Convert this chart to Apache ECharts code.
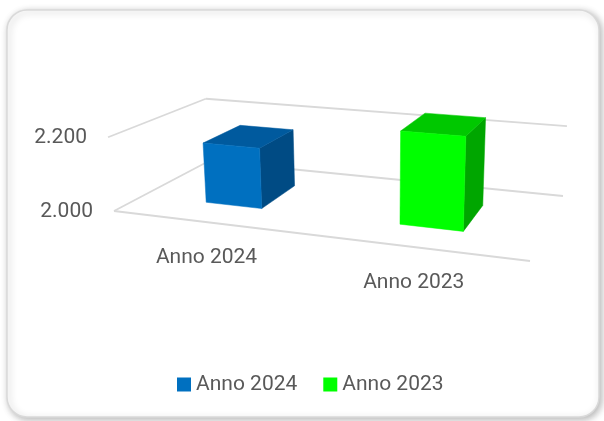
<!DOCTYPE html>
<html>
<head>
<meta charset="utf-8">
<script src="https://cdn.jsdelivr.net/npm/echarts@6/dist/echarts.min.js"></script>
<style>
  html, body { margin: 0; padding: 0; background: #ffffff; }
  #chart { width: 604px; height: 421px; }
</style>
</head>
<body>
<div id="chart"></div>
<script>
// ---- data ----
const categories = ['Anno 2024', 'Anno 2023'];
const values = [2165, 2243];
const yTicks = [2000, 2200];

// ---- styles ----
const FONT = 'Roboto, "Liberation Sans", sans-serif';
const TEXT_COLOR = '#595959';
const GRID_COLOR = '#D9D9D9';
const FACE_COLORS = [
  { front: '#0070C0', top: '#005A9E', side: '#004B84' },
  { front: '#00FF00', top: '#00C800', side: '#00A600' }
];

// ---- 3D view layout ----
// floor corners (front-left, front-right, back-right, back-left) in screen pixels
const FLOOR_QUAD = [[114, 211], [530, 261], [563, 196], [209, 161]];
const FRONT_HEIGHT = 74;          // projected height of the full value span at the front-left corner
const VANISH = [378, 3472];       // vanishing point of vertical edges
const BAR_FRACTION = 0.3;         // bar width as part of the category band
const DEPTH_FRONT = 0.28, DEPTH_BACK = 0.70;

function squareToQuad(q) {
  const [p0, p1, p2, p3] = q;
  const dx1 = p1[0] - p2[0], dx2 = p3[0] - p2[0], dx3 = p0[0] - p1[0] + p2[0] - p3[0];
  const dy1 = p1[1] - p2[1], dy2 = p3[1] - p2[1], dy3 = p0[1] - p1[1] + p2[1] - p3[1];
  const den = dx1 * dy2 - dx2 * dy1;
  const g = (dx3 * dy2 - dx2 * dy3) / den;
  const h = (dx1 * dy3 - dx3 * dy1) / den;
  return {
    a: p1[0] - p0[0] + g * p1[0], b: p3[0] - p0[0] + h * p3[0], c: p0[0],
    d: p1[1] - p0[1] + g * p1[1], e: p3[1] - p0[1] + h * p3[1], f: p0[1],
    g: g, h: h
  };
}
const HM = squareToQuad(FLOOR_QUAD);

// u: along categories (0..1), w: depth (0 front .. 1 back), t: value fraction of the axis span
function project(u, w, t) {
  const den = HM.g * u + HM.h * w + 1;
  const fx = (HM.a * u + HM.b * w + HM.c) / den;
  const fy = (HM.d * u + HM.e * w + HM.f) / den;
  const vx = fx - VANISH[0], vy = fy - VANISH[1];
  const n = Math.sqrt(vx * vx + vy * vy);
  const len = FRONT_HEIGHT * t / den;
  return [fx + vx / n * len, fy + vy / n * len];
}

function fmt(v) {
  return String(v).replace(/\B(?=(\d{3})+(?!\d))/g, '.');
}

// normalised position of a value pair taken from the cartesian scales
function norm(params, api, x, y) {
  const cs = params.coordSys;
  const p = api.coord([x, y]);
  return {
    u: (p[0] - cs.x) / cs.width,
    t: (cs.y + cs.height - p[1]) / cs.height
  };
}

function textEl(text, x, y, align) {
  return {
    type: 'text',
    style: {
      text: text, x: x, y: y,
      fill: TEXT_COLOR, fontSize: 21, fontFamily: FONT,
      align: align, verticalAlign: 'middle',
      textAlign: align, textVerticalAlign: 'middle'
    }
  };
}

function line(p, q) {
  return {
    type: 'line',
    shape: { x1: p[0], y1: p[1], x2: q[0], y2: q[1] },
    style: { stroke: GRID_COLOR, lineWidth: 1.8 }
  };
}

// walls, floor edge and value labels
function renderGrid(params, api) {
  const v = api.value(1);
  const t = norm(params, api, 0, v).t;
  const children = [];
  const fl = project(0, 0, t), bl = project(0, 1, t), br = project(1, 1, t);
  children.push(line(fl, bl), line(bl, br));
  if (params.dataIndex === 0) {
    children.push(line(project(0, 0, t), project(1, 0, t)));
  }
  children.push(textEl(fmt(v), fl[0] - 21, fl[1] + 1, 'right'));
  return { type: 'group', children: children };
}

// category names under the front floor edge
function renderCategory(params, api) {
  const n = norm(params, api, api.value(0), yTicks[0]);
  const p = project(n.u, 0, 0);
  return textEl(categories[api.value(0)], p[0] - 1, p[1] + 36, 'center');
}

function makeBarRenderer(colors) {
  return function (params, api) {
    const cs = params.coordSys;
    const n = norm(params, api, api.value(0), api.value(1));
    const half = api.size([1, 0])[0] * BAR_FRACTION / 2 / cs.width;
    const u0 = n.u - half, u1 = n.u + half;
    const w0 = DEPTH_FRONT, w1 = DEPTH_BACK, t = n.t;
    const poly = (pts, fill) => ({
      type: 'polygon',
      shape: { points: pts },
      style: { fill: fill, stroke: fill, lineWidth: 0.5 }
    });
    return {
      type: 'group',
      children: [
        poly([project(u1, w0, 0), project(u1, w1, 0), project(u1, w1, t), project(u1, w0, t)], colors.side),
        poly([project(u0, w0, t), project(u1, w0, t), project(u1, w1, t), project(u0, w1, t)], colors.top),
        poly([project(u0, w0, 0), project(u1, w0, 0), project(u1, w0, t), project(u0, w0, t)], colors.front)
      ]
    };
  };
}

const barSeries = categories.map((name, i) => ({
  type: 'custom',
  name: name,
  clip: false,
  z: 5,
  itemStyle: { color: FACE_COLORS[i].front },
  renderItem: makeBarRenderer(FACE_COLORS[i]),
  data: [[i, values[i]]]
}));

const chart = echarts.init(document.getElementById('chart'));
chart.setOption({
  animation: false,
  backgroundColor: '#ffffff',
  graphic: {
    elements: [{
      type: 'rect',
      z: -10,
      shape: { x: 7, y: 10, width: 592, height: 407, r: 20 },
      style: {
        fill: '#ffffff', stroke: '#D9D9D9', lineWidth: 1.5,
        shadowBlur: 7, shadowOffsetX: 2, shadowOffsetY: 2,
        shadowColor: 'rgba(0,0,0,0.28)'
      }
    }]
  },
  grid: { left: 0, right: 0, top: 0, bottom: 0 },
  xAxis: { type: 'category', data: categories, show: false },
  yAxis: { type: 'value', min: yTicks[0], max: yTicks[yTicks.length - 1], show: false },
  legend: {
    data: categories,
    left: 177,
    top: 374,
    padding: 0,
    icon: 'rect',
    itemWidth: 14,
    itemHeight: 14,
    itemGap: 26,
    textStyle: { color: TEXT_COLOR, fontSize: 21, fontFamily: FONT }
  },
  series: [
    {
      type: 'custom',
      name: 'grid',
      clip: false,
      z: 1,
      silent: true,
      renderItem: renderGrid,
      data: yTicks.map(v => [0, v])
    },
    {
      type: 'custom',
      name: 'categories',
      clip: false,
      z: 1,
      silent: true,
      renderItem: renderCategory,
      data: categories.map((c, i) => [i, yTicks[0]])
    }
  ].concat(barSeries)
});
</script>
</body>
</html>
